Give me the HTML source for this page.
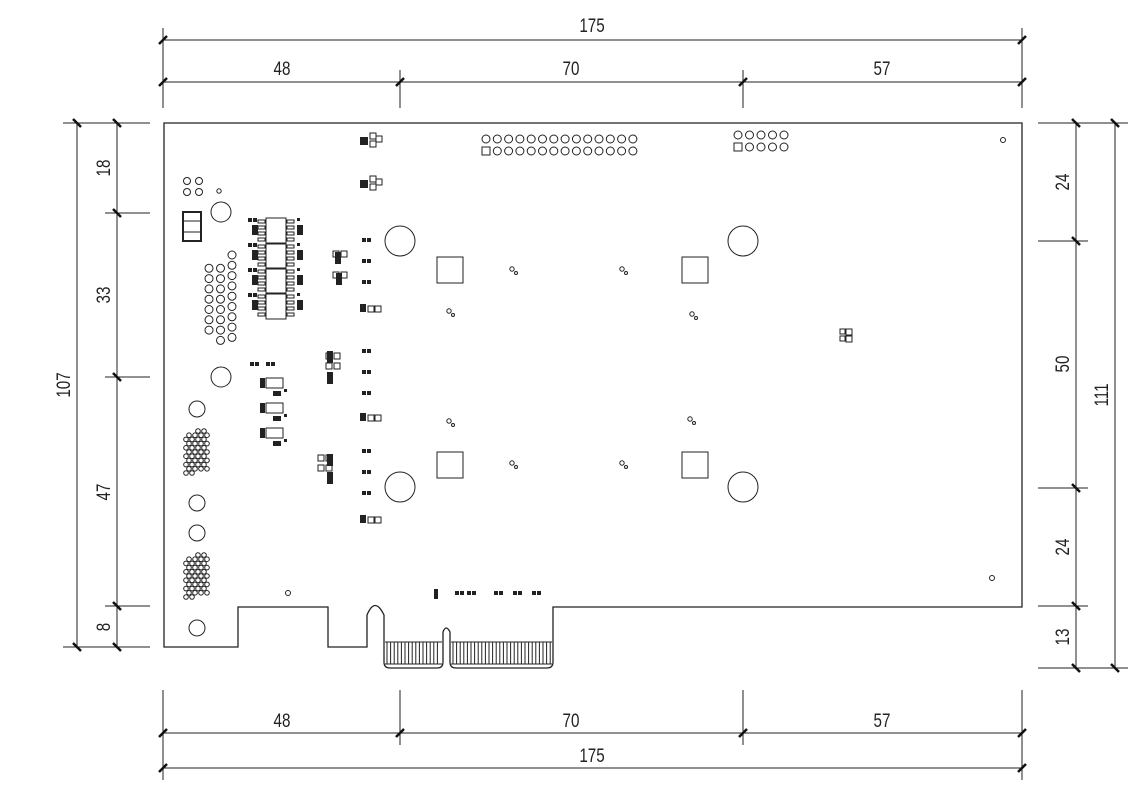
<!DOCTYPE html>
<html><head><meta charset="utf-8"><style>
html,body{margin:0;padding:0;background:#fff;}
svg{display:block}
text{font-family:"Liberation Sans",sans-serif;font-size:19px;fill:#222}
</style></head><body>
<svg id="s" width="1147" height="800" viewBox="0 0 1147 800" xmlns="http://www.w3.org/2000/svg">
<g stroke="#222" stroke-width="1" fill="none">
<line x1="163" y1="28" x2="163" y2="108"/><line x1="1022" y1="28" x2="1022" y2="108"/>
<line x1="400" y1="70" x2="400" y2="108"/><line x1="743" y1="70" x2="743" y2="108"/>
<line x1="163" y1="40" x2="1022" y2="40"/><line x1="163" y1="82" x2="1022" y2="82"/>
<line x1="163" y1="690" x2="163" y2="780"/><line x1="1022" y1="690" x2="1022" y2="780"/>
<line x1="400" y1="690" x2="400" y2="745"/><line x1="743" y1="690" x2="743" y2="745"/>
<line x1="163" y1="733" x2="1022" y2="733"/><line x1="163" y1="768" x2="1022" y2="768"/>
<line x1="77" y1="123" x2="77" y2="647"/><line x1="117" y1="123" x2="117" y2="647"/>
<line x1="63" y1="123" x2="150" y2="123"/><line x1="63" y1="647" x2="150" y2="647"/>
<line x1="105" y1="213" x2="150" y2="213"/><line x1="105" y1="377" x2="150" y2="377"/><line x1="105" y1="606" x2="150" y2="606"/>
<line x1="1076" y1="123" x2="1076" y2="668"/><line x1="1115" y1="123" x2="1115" y2="668"/>
<line x1="1038" y1="123" x2="1128" y2="123"/><line x1="1038" y1="668" x2="1128" y2="668"/>
<line x1="1038" y1="241" x2="1088" y2="241"/><line x1="1038" y1="488" x2="1088" y2="488"/><line x1="1038" y1="606" x2="1088" y2="606"/>
</g>
<g stroke="#111" stroke-width="2.5">
<path d="M159 44L167 36M159 86L167 78M396 86L404 78M739 86L747 78M1018 44L1026 36M1018 86L1026 78
M159 737L167 729M159 772L167 764M396 737L404 729M739 737L747 729M1018 737L1026 729M1018 772L1026 764
M73 119L81 127M113 119L121 127M113 209L121 217M113 373L121 381M113 602L121 610M73 643L81 651M113 643L121 651
M1072 119L1080 127M1111 119L1119 127M1072 237L1080 245M1072 484L1080 492M1072 602L1080 610M1072 664L1080 672M1111 664L1119 672"/>
</g>
<g text-anchor="middle">
<text transform="translate(592,32) scale(0.8,1)">175</text>
<text transform="translate(282,75) scale(0.8,1)">48</text>
<text transform="translate(571,75) scale(0.8,1)">70</text>
<text transform="translate(882,75) scale(0.8,1)">57</text>
<text transform="translate(282,727) scale(0.8,1)">48</text>
<text transform="translate(571,727) scale(0.8,1)">70</text>
<text transform="translate(882,727) scale(0.8,1)">57</text>
<text transform="translate(592,762) scale(0.8,1)">175</text>
<text transform="translate(70,385) rotate(-90) scale(0.8,1)">107</text>
<text transform="translate(110,168) rotate(-90) scale(0.8,1)">18</text>
<text transform="translate(110,295) rotate(-90) scale(0.8,1)">33</text>
<text transform="translate(110,492) rotate(-90) scale(0.8,1)">47</text>
<text transform="translate(110,627) rotate(-90) scale(0.8,1)">8</text>
<text transform="translate(1069,182) rotate(-90) scale(0.8,1)">24</text>
<text transform="translate(1069,364) rotate(-90) scale(0.8,1)">50</text>
<text transform="translate(1069,547) rotate(-90) scale(0.8,1)">24</text>
<text transform="translate(1069,637) rotate(-90) scale(0.8,1)">13</text>
<text transform="translate(1108,395) rotate(-90) scale(0.8,1)">111</text>
</g>
<path d="M164 123H1022V607H553V662Q553 668 547 668H456Q450 668 450 662V632Q446 624 443 632V662Q443 668 437 668H390Q384 668 384 662V615Q375 596 367 615V647H328V607H238V647H164Z" fill="none" stroke="#222" stroke-width="1.3"/>
<g id="c" fill="none" stroke="#222" stroke-width="1"></g>
<g id="f" fill="#222"></g>
</svg>
<script>
var c=document.getElementById('c'),f=document.getElementById('f'),N='http://www.w3.org/2000/svg';
function el(g,t,a){var e=document.createElementNS(N,t);for(var k in a)e.setAttribute(k,a[k]);g.appendChild(e);}
function ci(x,y,r){el(c,'circle',{cx:x,cy:y,r:r});}
function re(x,y,w,h,fill){el(fill?f:c,'rect',{x:x,y:y,width:w,height:h});}
[[400,241],[743,241],[400,487],[743,487]].forEach(p=>ci(p[0],p[1],15));
[[437,257],[682,257],[437,452],[682,452]].forEach(p=>re(p[0],p[1],26,26));
[[512,269],[622,269],[449,311],[692,314],[449,421],[690,419],[512,463],[622,463]].forEach(p=>{ci(p[0],p[1],2.2);ci(p[0]+4,p[1]+4,1.5);});
for(var i=0;i<14;i++){ci(486+i*11.3,139,4);if(i==0)re(482,147,8,8);else ci(486+i*11.3,151,4);}
for(var i=0;i<5;i++){ci(738+i*11.5,135,4);if(i==0)re(734,143,8,8);else ci(738+i*11.5,147,4);}
ci(1003,140,2.5);ci(992,578,2.5);ci(288,593,2.5);
ci(187,181,3.5);ci(199,181,3.5);ci(187,192,3.5);ci(199,192,3.5);ci(219,191,2.2);
ci(221,212,10);ci(221,377,10);ci(197,409,8);ci(197,503,8);ci(197,533,8);ci(197,628,8);
el(c,'rect',{x:183,y:212,width:18,height:29,'stroke-width':2});el(c,'line',{x1:183,y1:221,x2:201,y2:221});el(c,'line',{x1:183,y1:232,x2:201,y2:232});
for(var r=0;r<9;r++)for(var k=0;k<3;k++){if((r==0&&k<2)||(r==8&&k==0))continue;ci(209+k*11.5,258+r*10.3-(k==2?3:0),4);}
function grid(y0){for(var r=0;r<11;r++)for(var k=0;k<4;k++){if((r==0&&k<2)||(r==10&&k>1))continue;ci(186+k*6+(r%2)*3,y0+r*4.2,2.3);}}
grid(431);grid(555);
for(var i=0;i<4;i++){var y=218+i*25;re(266,y,20,26);for(var j=0;j<4;j++){re(258,y+2+j*6,7,3);re(287,y+2+j*6,7,3);}
 re(248,y,4,4,1);re(253,y,4,4,1);re(252,y+7,6,10,1);re(297,y+7,6,10,1);re(297,y,3,3,1);}
for(var i=0;i<3;i++){var y=378+i*25;re(266,y,17,10);re(260,y,5,10,1);re(273,y+13,8,5,1);re(284,y+11,3,3,1);}
var smalls=[[362,238],[362,259],[362,280],[362,349],[362,370],[362,391],[362,449],[362,470],[362,491],[250,362],[266,362],[455,591],[467,591],[494,591],[513,591],[532,591]];
smalls.forEach(p=>{re(p[0],p[1],4,4,1);re(p[0]+5,p[1],4,4,1);});
[[360,304],[360,413],[360,515]].forEach(p=>{re(p[0],p[1],6,8,1);re(p[0]+8,p[1]+2,6,6);re(p[0]+15,p[1]+2,6,6);});
[[333,251],[333,272],[326,353],[326,363],[318,455],[318,465]].forEach(p=>{re(p[0],p[1],6,6);re(p[0]+8,p[1],6,6);});
[[335,252],[336,273],[327,351],[327,372],[327,454],[327,472]].forEach(p=>re(p[0],p[1],6,12,1));
re(434,589,4,10,1);
[[360,137],[360,180]].forEach(p=>{re(p[0],p[1],8,8,1);re(p[0]+10,p[1]-4,6,6);re(p[0]+10,p[1]+4,6,6);re(p[0]+16,p[1]-1,6,6);});
re(840,329,5,5);re(846,329,6,6);re(846,336,6,6);re(840,336,5,5);
for(var x=387;x<441;x+=3.6)el(c,'line',{x1:x,y1:642,x2:x,y2:664});
el(c,'line',{x1:385,y1:642,x2:442,y2:642});el(c,'line',{x1:385,y1:664,x2:442,y2:664});
for(var x=453;x<551;x+=3.6)el(c,'line',{x1:x,y1:642,x2:x,y2:664});
el(c,'line',{x1:451,y1:642,x2:552,y2:642});el(c,'line',{x1:451,y1:664,x2:552,y2:664});
</script>
</body></html>
